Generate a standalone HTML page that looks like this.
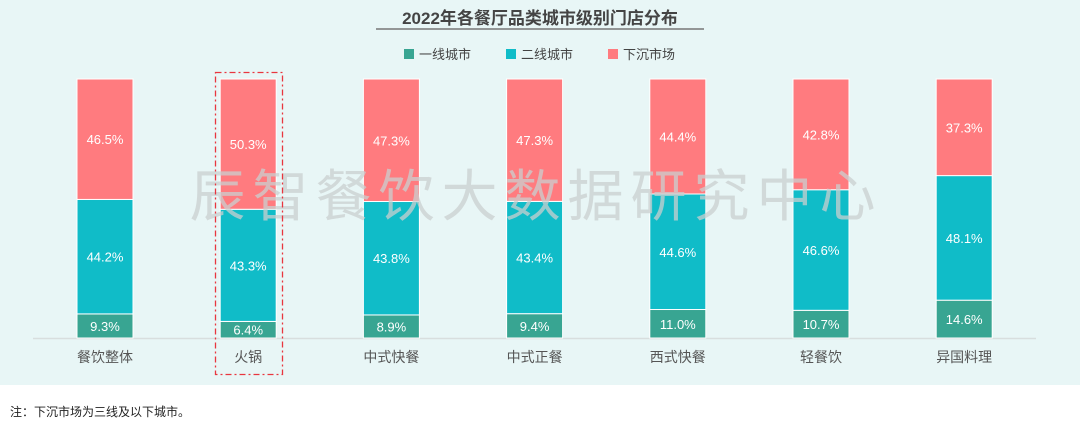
<!DOCTYPE html>
<html><head><meta charset="utf-8"><style>
body{margin:0;width:1080px;height:426px;background:#fff;font-family:"Liberation Sans","Noto Sans CJK SC",sans-serif;overflow:hidden}
</style></head><body>
<svg width="1080" height="426" xmlns="http://www.w3.org/2000/svg" font-family="Liberation Sans, Noto Sans CJK SC, sans-serif">
<rect x="0" y="0" width="1080" height="385" fill="#e8f6f6"/>
<text x="540" y="24" text-anchor="middle" font-size="17" font-weight="bold" fill="#444">2022年各餐厅品类城市级别门店分布</text>
<line x1="376" y1="29" x2="704" y2="29" stroke="#777" stroke-width="1.5"/>
<g font-size="13" fill="#444">
<rect x="404" y="49" width="10" height="10" fill="#38a592"/><text x="419" y="59">一线城市</text>
<rect x="506" y="49" width="10" height="10" fill="#10bcc8"/><text x="521" y="59">二线城市</text>
<rect x="608" y="49" width="10" height="10" fill="#ff7b7f"/><text x="623" y="59">下沉市场</text>
</g>
<line x1="33" y1="338.5" x2="1036" y2="338.5" stroke="#d8dede" stroke-width="1.5"/>
<g id="bars" font-size="13" fill="#fff" text-anchor="middle"></g>
<text x="536" y="216" text-anchor="middle" font-size="56" fill="#c9cfcf" fill-opacity="0.75" letter-spacing="7">辰智餐饮大数据研究中心</text>
<rect x="215.5" y="72.5" width="67" height="302" fill="none" stroke="#e8363f" stroke-width="1.3" stroke-dasharray="6,3,2,3"/>
<text x="10" y="416" font-size="12" fill="#222">注：下沉市场为三线及以下城市。</text>
</svg>
<script>
(function(){
const d=[["餐饮整体",9.3,44.2,46.5],["火锅",6.4,43.3,50.3],["中式快餐",8.9,43.8,47.3],["中式正餐",9.4,43.4,47.3],["西式快餐",11.0,44.6,44.4],["轻餐饮",10.7,46.6,42.8],["异国料理",14.6,48.1,37.3]];
const g=document.getElementById('bars');let h='';
const t0=79,base=338,H=base-t0;
const cols=["#38a592","#10bcc8","#ff7b7f"];
d.forEach((r,i)=>{const cx=105+i*143.2,x=cx-28;
const tot=r[1]+r[2]+r[3];let y=base;
for(let k=0;k<3;k++){const hh=r[k+1]/tot*H;y-=hh;
h+=`<rect x="${x}" y="${y}" width="56" height="${hh}" fill="${cols[k]}" stroke="#fff" stroke-width="1"/>`;
h+=`<text x="${cx}" y="${y+hh/2+5}">${r[k+1].toFixed(1)}%</text>`;}
h+=`<text x="${cx}" y="362" fill="#555" font-size="14">${r[0]}</text>`;});
g.innerHTML=h;
})();
</script>
</body></html>
